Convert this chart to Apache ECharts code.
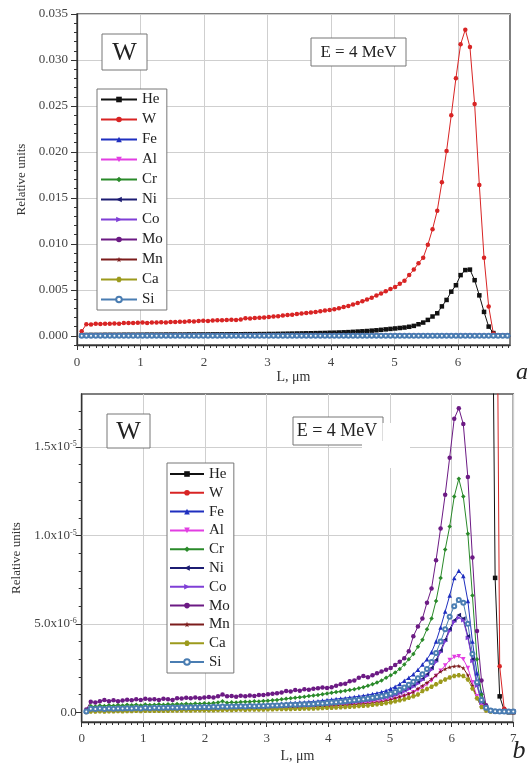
<!DOCTYPE html>
<html><head><meta charset="utf-8">
<script src="https://cdn.jsdelivr.net/npm/echarts@6/dist/echarts.min.js"></script>
<style>html,body{margin:0;padding:0;background:#fff}#c{width:529px;height:764px}</style>
</head><body><div id="c"></div>
<script>
// depth L, um (sampling grid of the calculation)
const L = [
0.074,0.147,0.221,0.295,0.368,0.442,0.516,0.589,0.663,0.737,
0.811,0.884,0.958,1.032,1.105,1.179,1.253,1.326,1.4,1.474,
1.547,1.621,1.695,1.768,1.842,1.916,1.989,2.063,2.137,2.211,
2.284,2.358,2.432,2.505,2.579,2.653,2.726,2.8,2.874,2.947,
3.021,3.095,3.168,3.242,3.316,3.389,3.463,3.537,3.611,3.684,
3.758,3.832,3.905,3.979,4.053,4.126,4.2,4.274,4.347,4.421,
4.495,4.568,4.642,4.716,4.789,4.863,4.937,5.011,5.084,5.158,
5.232,5.305,5.379,5.453,5.526,5.6,5.674,5.747,5.821,5.895,
5.968,6.042,6.116,6.189,6.263,6.337,6.411,6.484,6.558,6.632,
6.705,6.779,6.853,6.926,7.0];

// He and W in units of 1e-3
const He = [
0.04,0.09,0.10,0.10,0.10,0.11,0.11,0.11,0.11,0.12,
0.12,0.12,0.12,0.12,0.13,0.13,0.13,0.13,0.14,0.14,
0.14,0.14,0.14,0.15,0.15,0.15,0.15,0.15,0.16,0.16,
0.16,0.16,0.17,0.17,0.17,0.18,0.18,0.18,0.19,0.19,
0.20,0.20,0.21,0.22,0.23,0.24,0.25,0.26,0.27,0.28,
0.29,0.30,0.31,0.33,0.34,0.36,0.38,0.40,0.43,0.46,
0.49,0.52,0.56,0.60,0.65,0.70,0.75,0.80,0.85,0.90,
0.98,1.08,1.26,1.44,1.73,2.10,2.45,3.20,3.90,4.80,
5.50,6.60,7.15,7.20,6.05,4.40,2.60,1.00,0.30,0.037,
0.0076,0.0009,0.0001,0,0];
const W = [
0.50,1.25,1.22,1.30,1.28,1.32,1.30,1.35,1.30,1.38,
1.40,1.38,1.43,1.44,1.40,1.46,1.44,1.48,1.46,1.50,
1.50,1.53,1.52,1.57,1.56,1.62,1.64,1.62,1.67,1.70,
1.68,1.72,1.74,1.73,1.78,1.90,1.88,1.93,1.96,2.00,
2.04,2.10,2.14,2.20,2.25,2.30,2.36,2.42,2.48,2.54,
2.60,2.66,2.74,2.81,2.90,3.00,3.12,3.25,3.40,3.56,
3.75,3.95,4.15,4.38,4.60,4.85,5.08,5.30,5.65,6.00,
6.60,7.20,7.90,8.50,9.90,11.6,13.6,16.7,20.1,24.0,
28.0,31.7,33.3,31.4,25.2,16.4,8.50,3.20,0.25,0.05,
0.042,0.0026,0.0002,0.00005,0];

// other elements in units of 1e-6
const Fe = [
0.05,0.25,0.22,0.27,0.24,0.28,0.25,0.29,0.26,0.28,
0.27,0.30,0.28,0.29,0.30,0.28,0.31,0.29,0.32,0.30,
0.31,0.33,0.31,0.34,0.32,0.33,0.35,0.33,0.36,0.34,
0.37,0.35,0.38,0.36,0.39,0.38,0.40,0.39,0.41,0.42,
0.43,0.45,0.46,0.48,0.50,0.52,0.54,0.56,0.57,0.59,
0.61,0.63,0.66,0.69,0.72,0.75,0.78,0.80,0.84,0.87,
0.90,0.94,0.98,1.03,1.08,1.14,1.22,1.33,1.45,1.60,
1.78,1.95,2.15,2.40,2.70,3.00,3.40,4.00,4.80,5.70,
6.60,7.60,8.00,7.70,6.30,4.00,2.20,1.10,0.30,0.08,
0.05,0.05,0.05,0.05,0.05];
const Al = [
0.03,0.10,0.09,0.11,0.10,0.11,0.10,0.12,0.11,0.12,
0.11,0.12,0.13,0.12,0.13,0.12,0.14,0.13,0.14,0.13,
0.15,0.14,0.15,0.16,0.15,0.16,0.17,0.16,0.17,0.18,
0.17,0.18,0.19,0.18,0.20,0.19,0.20,0.21,0.20,0.22,
0.22,0.23,0.24,0.25,0.25,0.26,0.27,0.28,0.29,0.30,
0.30,0.31,0.32,0.33,0.34,0.35,0.37,0.38,0.40,0.42,
0.44,0.46,0.48,0.51,0.54,0.58,0.63,0.70,0.76,0.84,
0.92,1.02,1.13,1.26,1.40,1.58,1.80,2.05,2.35,2.65,
2.95,3.12,3.17,3.00,2.50,1.70,0.90,0.35,0.12,0.06,
0.05,0.05,0.05,0.05,0.05];
const Cr = [
0.10,0.35,0.32,0.38,0.36,0.40,0.37,0.41,0.38,0.42,
0.40,0.43,0.39,0.44,0.41,0.43,0.45,0.42,0.46,0.44,
0.47,0.45,0.48,0.46,0.50,0.48,0.51,0.49,0.52,0.55,
0.62,0.54,0.56,0.55,0.58,0.60,0.59,0.62,0.61,0.64,
0.65,0.68,0.70,0.73,0.76,0.79,0.82,0.85,0.88,0.92,
0.95,0.98,1.02,1.06,1.10,1.14,1.18,1.22,1.26,1.30,
1.36,1.42,1.50,1.58,1.68,1.80,1.95,2.10,2.25,2.45,
2.70,3.00,3.30,3.70,4.10,4.70,5.30,6.30,7.60,9.20,
10.5,12.2,13.2,12.2,10.1,6.60,3.00,1.00,0.30,0.10,
0.05,0.05,0.05,0.05,0.05];
const Ni = [
0.04,0.17,0.15,0.18,0.16,0.19,0.17,0.18,0.19,0.20,
0.18,0.21,0.19,0.21,0.20,0.22,0.21,0.23,0.22,0.23,
0.24,0.23,0.25,0.24,0.26,0.25,0.26,0.27,0.26,0.28,
0.27,0.29,0.28,0.30,0.29,0.31,0.30,0.32,0.31,0.33,
0.34,0.35,0.36,0.37,0.38,0.39,0.40,0.41,0.42,0.43,
0.44,0.46,0.47,0.49,0.51,0.53,0.55,0.57,0.60,0.62,
0.65,0.68,0.71,0.75,0.79,0.83,0.88,0.95,1.03,1.12,
1.24,1.37,1.52,1.70,1.90,2.15,2.50,2.95,3.50,4.10,
4.70,5.20,5.50,5.30,4.30,3.00,1.60,0.60,0.20,0.08,
0.05,0.05,0.05,0.05,0.05];
const Co = [
0.04,0.15,0.14,0.16,0.15,0.17,0.16,0.17,0.18,0.17,
0.18,0.19,0.18,0.20,0.19,0.20,0.21,0.20,0.22,0.21,
0.22,0.23,0.22,0.24,0.23,0.25,0.24,0.25,0.26,0.25,
0.27,0.26,0.28,0.27,0.29,0.28,0.30,0.29,0.31,0.31,
0.32,0.33,0.34,0.35,0.36,0.37,0.38,0.39,0.40,0.41,
0.42,0.43,0.45,0.46,0.48,0.50,0.52,0.54,0.56,0.58,
0.61,0.64,0.67,0.70,0.74,0.78,0.83,0.90,0.98,1.07,
1.18,1.30,1.45,1.62,1.82,2.05,2.40,2.85,3.40,4.00,
4.60,5.10,5.35,5.20,4.20,2.90,1.50,0.55,0.18,0.07,
0.05,0.05,0.05,0.05,0.05];
const Mo = [
0.15,0.60,0.55,0.62,0.70,0.63,0.68,0.62,0.66,0.71,
0.68,0.74,0.70,0.76,0.72,0.74,0.70,0.77,0.73,0.70,
0.80,0.78,0.82,0.79,0.84,0.80,0.83,0.86,0.84,0.90,
1.00,0.90,0.92,0.88,0.94,0.90,0.95,0.92,0.97,0.98,
1.02,1.05,1.08,1.12,1.20,1.18,1.26,1.22,1.30,1.28,
1.33,1.36,1.40,1.37,1.42,1.50,1.58,1.62,1.75,1.80,
1.95,2.05,1.98,2.10,2.20,2.30,2.40,2.50,2.67,2.86,
3.05,3.45,4.30,4.85,5.30,6.20,7.00,8.60,10.4,12.3,
14.4,16.6,17.2,16.3,13.3,8.75,4.60,1.80,0.40,0.10,
0.06,0.05,0.05,0.05,0.05];
const Mn = [
0.03,0.10,0.10,0.11,0.10,0.12,0.11,0.12,0.11,0.13,
0.12,0.13,0.12,0.14,0.13,0.14,0.13,0.15,0.14,0.15,
0.16,0.15,0.16,0.17,0.16,0.17,0.18,0.17,0.18,0.19,
0.18,0.20,0.19,0.20,0.21,0.20,0.22,0.21,0.22,0.23,
0.23,0.24,0.25,0.26,0.26,0.27,0.28,0.29,0.30,0.31,
0.31,0.32,0.33,0.34,0.35,0.37,0.38,0.40,0.42,0.44,
0.46,0.48,0.50,0.53,0.56,0.60,0.65,0.72,0.80,0.88,
0.96,1.05,1.15,1.35,1.50,1.68,1.88,2.10,2.30,2.45,
2.55,2.60,2.62,2.50,2.10,1.50,0.80,0.30,0.10,0.06,
0.05,0.05,0.05,0.05,0.05];
const Ca = [
0.02,0.05,0.05,0.06,0.05,0.06,0.06,0.07,0.06,0.07,
0.07,0.08,0.07,0.08,0.08,0.09,0.08,0.09,0.09,0.10,
0.10,0.10,0.11,0.10,0.11,0.12,0.11,0.12,0.12,0.13,
0.13,0.14,0.13,0.14,0.15,0.14,0.15,0.16,0.15,0.16,
0.17,0.17,0.18,0.18,0.19,0.19,0.20,0.20,0.21,0.21,
0.22,0.23,0.24,0.25,0.26,0.27,0.28,0.30,0.31,0.33,
0.35,0.37,0.39,0.42,0.45,0.48,0.52,0.57,0.62,0.68,
0.74,0.82,0.90,1.00,1.20,1.32,1.45,1.58,1.72,1.86,
1.96,2.05,2.10,2.05,1.85,1.35,0.80,0.30,0.10,0.05,
0.04,0.04,0.04,0.04,0.04];
const Si = [
0.05,0.20,0.18,0.21,0.19,0.22,0.20,0.22,0.21,0.23,
0.22,0.24,0.22,0.25,0.23,0.25,0.24,0.26,0.25,0.27,
0.26,0.28,0.27,0.28,0.29,0.28,0.30,0.29,0.31,0.30,
0.32,0.31,0.33,0.32,0.34,0.33,0.35,0.34,0.36,0.36,
0.37,0.38,0.39,0.40,0.41,0.42,0.43,0.44,0.45,0.46,
0.47,0.49,0.50,0.52,0.55,0.57,0.60,0.62,0.65,0.68,
0.71,0.74,0.78,0.82,0.86,0.90,0.96,1.05,1.15,1.27,
1.40,1.55,1.72,1.92,2.15,2.45,2.85,3.35,4.00,4.70,
5.40,6.00,6.35,6.20,5.00,3.30,1.70,0.70,0.25,0.10,
0.06,0.05,0.05,0.05,0.05];

const names = ['He','W','Fe','Al','Cr','Ni','Co','Mo','Mn','Ca','Si'];
const values = {He, W, Fe, Al, Cr, Ni, Co, Mo, Mn, Ca, Si};
const unit = {He:1e-3, W:1e-3, Fe:1e-6, Al:1e-6, Cr:1e-6, Ni:1e-6, Co:1e-6, Mo:1e-6, Mn:1e-6, Ca:1e-6, Si:1e-6};

// tick labels
const topXTicks = [0,1,2,3,4,5,6];
const topYTicks = [0,0.005,0.01,0.015,0.02,0.025,0.03,0.035];
const topYLabels = ['0.000','0.005','0.010','0.015','0.020','0.025','0.030','0.035'];
const botXTicks = [0,1,2,3,4,5,6,7];
const botYTicks = [0,5e-6,1e-5,1.5e-5];
const botYLabels = ['{m|0.0}','{m|5.0x10}{s|-6}','{m|1.0x10}{s|-5}','{m|1.5x10}{s|-5}'];

// styles
const FONT = '"Liberation Serif","DejaVu Serif",serif';
const style = {
  He:{c:'#111111', s:'rect', r:0},
  W:{c:'#d82424', s:'circle', r:0},
  Fe:{c:'#1f2fbf', s:'triangle', r:0},
  Al:{c:'#e23ee2', s:'triangle', r:180},
  Cr:{c:'#2a8a2a', s:'diamond', r:0},
  Ni:{c:'#1c1c72', s:'triangle', r:90},
  Co:{c:'#7f3fd6', s:'triangle', r:-90},
  Mo:{c:'#6c1a84', s:'circle', r:0},
  Mn:{c:'#7c1c1c', s:'path://M50,0 L61,35 L98,35 L68,57 L79,91 L50,70 L21,91 L32,57 L2,35 L39,35 Z', r:0},
  Ca:{c:'#9c9a1c', s:'path://M25,0 L75,0 L100,50 L75,100 L25,100 L0,50 Z', r:0},
  Si:{c:'#4a7db2', s:'emptyCircle', r:0}
};

function minors(a, b, step, every) {
  const out = [];
  for (let i = a; i <= b; i++) { if (i % every !== 0) out.push(+(i*step).toFixed(10)); }
  return out;
}

function series(xi, yi) {
  return names.map(n => ({
    type:'line', name:n, xAxisIndex:xi, yAxisIndex:yi, clip:true,
    data: L.map((x,i) => [x, values[n][i]*unit[n]]),
    symbol: style[n].s, symbolRotate: style[n].r, symbolSize: n==='Si'?4:4.5,
    showSymbol:true,
    lineStyle:{width:1, color:style[n].c},
    itemStyle:{color:style[n].c, borderWidth: n==='Si'?1:0},
    emphasis:{disabled:true}
  }));
}

function mainX(grid, max, ticks, nameGap, margin) {
  return {type:'value', gridIndex:grid, position:'bottom', min:0, max:max,
    name:'L, \u03bcm', nameLocation:'middle', nameGap:nameGap,
    nameTextStyle:{fontFamily:FONT, fontSize:14, color:'#333'},
    axisLine:{onZero:false, lineStyle:{color:'#333', width:1.3}},
    axisTick:{customValues:ticks, length:5, lineStyle:{color:'#333'}},
    axisLabel:{customValues:ticks, margin:margin, fontFamily:FONT, fontSize:13, color:'#444'},
    splitLine:{show:true, lineStyle:{color:'#cfcfcf', width:1}}};
}
function minorX(grid, max, vals) {
  return {type:'value', gridIndex:grid, position:'bottom', min:0, max:max,
    axisLine:{show:false, onZero:false}, axisLabel:{show:false}, splitLine:{show:false},
    axisTick:{customValues:vals, length:3, lineStyle:{color:'#333'}}};
}
function minorY(grid, min, max, vals) {
  return {type:'value', gridIndex:grid, position:'left', min:min, max:max,
    axisLine:{show:false, onZero:false}, axisLabel:{show:false}, splitLine:{show:false},
    axisTick:{customValues:vals, length:3, lineStyle:{color:'#333'}}};
}

const legendCommon = {orient:'vertical', itemWidth:36, itemHeight:7,
  backgroundColor:'#fff', borderColor:'#777', borderWidth:1, borderRadius:0,
  textStyle:{fontFamily:FONT, fontSize:15, color:'#222'}, data:names, selectedMode:false};

const chart = echarts.init(document.getElementById('c'), null, {renderer:'canvas'});
chart.setOption({
  animation:false,
  backgroundColor:'#fff',
  grid:[
    {left:77, top:14, width:433, height:331, show:true, borderColor:'#555', borderWidth:1.5, backgroundColor:'transparent'},
    {left:81.7, top:394, width:431.6, height:336, show:true, borderColor:'#555', borderWidth:1.5, backgroundColor:'transparent'}
  ],
  xAxis:[
    mainX(0, 6.82, topXTicks, 24, 11),
    minorX(0, 6.82, minors(1, 68, 0.1, 10)),
    mainX(1, 7, botXTicks, 27, 10),
    minorX(1, 7, minors(1, 69, 0.1, 10))
  ],
  yAxis:[
    {type:'value', gridIndex:0, position:'left', min:-0.001, max:0.035,
     name:'Relative units', nameLocation:'middle', nameGap:43,
     nameTextStyle:{fontFamily:FONT, fontSize:13, color:'#333'},
     axisLine:{onZero:false, lineStyle:{color:'#333', width:1.3}},
     axisTick:{customValues:topYTicks, length:6, lineStyle:{color:'#333'}},
     axisLabel:{customValues:topYTicks, margin:9, fontFamily:FONT, fontSize:13, color:'#444',
       formatter:v => topYLabels[topYTicks.findIndex(t => Math.abs(t-v) < 1e-9)]},
     splitLine:{show:true, lineStyle:{color:'#cfcfcf', width:1}}},
    minorY(0, -0.001, 0.035, minors(-1, 34, 0.001, 5)),
    {type:'value', gridIndex:1, position:'left', min:-0.55e-6, max:1.8e-5,
     name:'Relative units', nameLocation:'middle', nameGap:52,
     nameTextStyle:{fontFamily:FONT, fontSize:13, color:'#333'},
     axisLine:{onZero:false, lineStyle:{color:'#333', width:1.3}},
     axisTick:{customValues:botYTicks, length:6, lineStyle:{color:'#333'}},
     axisLabel:{customValues:botYTicks, margin:5, color:'#444',
       formatter:v => botYLabels[botYTicks.findIndex(t => Math.abs(t-v) < 1e-12)],
       rich:{m:{fontFamily:FONT, fontSize:13, color:'#444'},
             s:{fontFamily:FONT, fontSize:8, color:'#444', verticalAlign:'top', padding:[0,0,6,0]}}},
     splitLine:{show:true, lineStyle:{color:'#cfcfcf', width:1}}},
    minorY(1, -0.55e-6, 1.8e-5, minors(1, 17, 1e-6, 5))
  ],
  legend:[
    Object.assign({}, legendCommon, {left:97, top:89, itemGap:5, padding:[3,4,3,3]}),
    Object.assign({}, legendCommon, {left:167, top:463, itemWidth:34, itemGap:3.8, padding:[3.5,4,3.5,2]})
  ],
  graphic:[
    {type:'rect', z:100, shape:{x:102, y:34, width:45, height:36}, style:{fill:'#fff', stroke:'#777', lineWidth:1}},
    {type:'text', z:102, x:124.5, y:53, style:{text:'W', fontFamily:FONT, fontSize:26, fill:'#222', align:'center', verticalAlign:'middle'}},
    {type:'rect', z:100, shape:{x:311, y:38, width:95, height:28}, style:{fill:'#fff', stroke:'#777', lineWidth:1}},
    {type:'text', z:102, x:358.5, y:53, style:{text:'E = 4 MeV', fontFamily:FONT, fontSize:17, fill:'#222', align:'center', verticalAlign:'middle'}},
    {type:'rect', z:100, shape:{x:107, y:414, width:43, height:34}, style:{fill:'#fff', stroke:'#777', lineWidth:1}},
    {type:'text', z:102, x:128.5, y:432, style:{text:'W', fontFamily:FONT, fontSize:26, fill:'#222', align:'center', verticalAlign:'middle'}},
    {type:'rect', z:100, shape:{x:293, y:417, width:90, height:28}, style:{fill:'#fff', stroke:'#777', lineWidth:1}},
    {type:'rect', z:101, shape:{x:362, y:441, width:48, height:27}, style:{fill:'#fff'}},
    {type:'rect', z:101, shape:{x:382.5, y:423, width:27.5, height:20}, style:{fill:'#fff'}},
    {type:'text', z:102, x:337, y:431, style:{text:'E = 4 MeV', fontFamily:FONT, fontSize:18, fill:'#222', align:'center', verticalAlign:'middle'}},
    {type:'text', z:102, x:522, y:373, style:{text:'a', fontFamily:FONT, fontStyle:'italic', fontSize:24, fill:'#222', align:'center', verticalAlign:'middle'}},
    {type:'text', z:102, x:519, y:751, style:{text:'b', fontFamily:FONT, fontStyle:'italic', fontSize:26, fill:'#222', align:'center', verticalAlign:'middle'}}
  ],
  series: series(0,0).concat(series(2,2))
});
</script></body></html>
